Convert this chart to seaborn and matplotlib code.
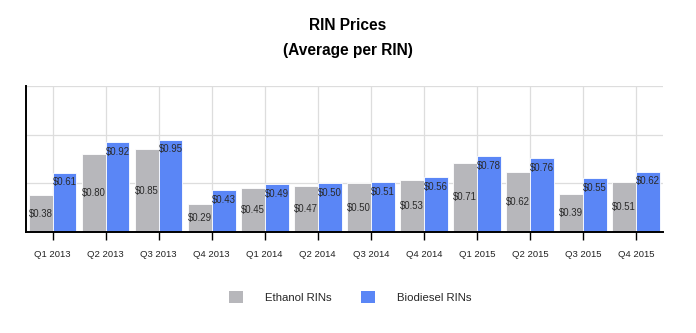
import matplotlib
matplotlib.use("Agg")
import matplotlib.pyplot as plt
import seaborn as sns
import pandas as pd
from matplotlib.patches import Patch

quarters = ["Q1 2013", "Q2 2013", "Q3 2013", "Q4 2013",
            "Q1 2014", "Q2 2014", "Q3 2014", "Q4 2014",
            "Q1 2015", "Q2 2015", "Q3 2015", "Q4 2015"]
ethanol = [0.38, 0.80, 0.85, 0.29, 0.45, 0.47, 0.50, 0.53, 0.71, 0.62, 0.39, 0.51]
biodiesel = [0.61, 0.92, 0.95, 0.43, 0.49, 0.50, 0.51, 0.56, 0.78, 0.76, 0.55, 0.62]
series = ["Ethanol RINs", "Biodiesel RINs"]
colors = ["#b7b7bb", "#5a86f6"]

df = pd.DataFrame({
    "quarter": quarters * 2,
    "price": ethanol + biodiesel,
    "type": [series[0]] * len(quarters) + [series[1]] * len(quarters),
})

sns.set_theme(style="white")
plt.rcParams["font.family"] = ["Liberation Sans", "DejaVu Sans"]

fig = plt.figure(figsize=(6.96, 3.33), dpi=100)
ax = fig.add_axes([26 / 696, 1 - 232 / 333, (662.5 - 26) / 696, (232 - 86) / 333])

sns.barplot(data=df, x="quarter", y="price", hue="type", palette=colors,
            width=0.9, ax=ax, edgecolor="white", linewidth=0.6, legend=False,
            saturation=1)

ax.set_xlim(-0.5, len(quarters) - 0.5)
ax.set_ylim(0, 1.5)
ax.set_yticks([0.5, 1.0, 1.5])
ax.set_yticklabels([])
ax.tick_params(axis="y", length=0)
ax.set_axisbelow(True)
ax.grid(True, color="#dddddd", linewidth=0.9)
ax.set_xlabel("")
ax.set_ylabel("")
for s in ["top", "right"]:
    ax.spines[s].set_visible(False)
for s in ["left", "bottom"]:
    ax.spines[s].set_color("black")
    ax.spines[s].set_linewidth(1.4)
ax.tick_params(axis="x", length=6, width=1, color="black", labelsize=6.8,
               labelcolor="#222222", pad=7, bottom=True)

# value labels
for ci, cont in enumerate(ax.containers):
    for bar in cont:
        h = bar.get_height()
        cx = bar.get_x() + bar.get_width() / 2
        if ci == 0:
            ax.annotate(f"${h:.2f}", (cx, h / 2), ha="center", va="center",
                        fontsize=6.9, color="#2a2a2a")
        else:
            ax.annotate(f"${h:.2f}", (cx, h), xytext=(0, -7),
                        textcoords="offset points", ha="center", va="center",
                        fontsize=6.9, color="#2a2a2a")

fig.text(0.5, 1 - 26 / 333, "RIN Prices", ha="center", va="center",
         fontsize=11.2, fontweight="bold", color="black")
fig.text(0.5, 1 - 50 / 333, "(Average per RIN)", ha="center", va="center",
         fontsize=11.2, fontweight="bold", color="black")

handles = [Patch(facecolor=c, edgecolor="none") for c in colors]
fig.legend(handles, series, loc="center", bbox_to_anchor=(0.503, 1 - 297 / 333),
           ncol=2, frameon=False, fontsize=8.2, handlelength=1.25, handleheight=1.25,
           handletextpad=1.9, columnspacing=2.6)

fig.savefig("out.png", dpi=100)
